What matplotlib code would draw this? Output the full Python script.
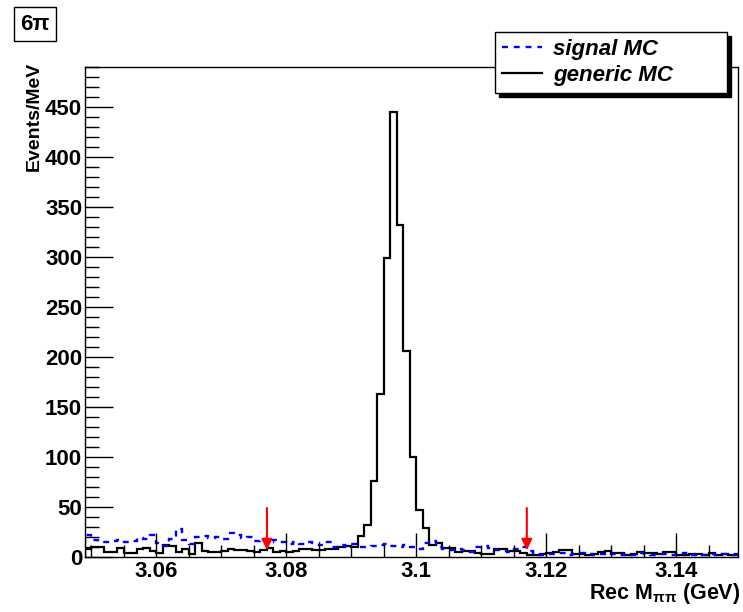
# Recreation of ROOT-style mass spectrum: signal MC vs generic MC
import numpy as np
import matplotlib.pyplot as plt

plt.rcParams['font.family'] = ['Liberation Sans', 'DejaVu Sans']

# bin edges: 1 MeV bins from 3.049 to 3.150 GeV
bin_lo = 3.049
bin_width = 0.001

generic_mc = [8, 10, 10, 5, 5, 9, 4, 4, 8, 9,
              6, 4, 12, 11, 5, 8, 3, 14, 6, 5,
              5, 6, 8, 7, 7, 6, 5, 7, 9, 5,
              6, 5, 6, 8, 8, 7, 7, 8, 8, 10,
              11, 10, 21, 32, 76, 163, 299, 445, 332, 206,
              100, 47, 29, 12, 14, 9, 9, 5, 6, 6,
              4, 3, 3, 8, 8, 6, 6, 4, 2, 2,
              3, 4, 5, 7, 7, 3, 3, 2, 3, 5,
              6, 4, 4, 2, 3, 5, 4, 4, 3, 5,
              5, 2, 2, 3, 3, 2, 4, 2, 3, 2,
              3]

signal_mc = [22, 17, 15, 15, 16, 17, 15, 16, 19, 18,
             22, 14, 11, 18, 28, 17, 13, 20, 21, 19,
             20, 18, 24, 22, 19, 20, 16, 18, 15, 17,
             15, 13, 15, 13, 15, 14, 12, 15, 10, 12,
             11, 13, 10, 10, 11, 12, 13, 11, 10, 12,
             10, 8, 14, 16, 10, 8, 7, 8, 7, 5,
             10, 11, 9, 7, 6, 5, 8, 10, 6, 4,
             2, 3, 3, 4, 2, 3, 4, 3, 2, 3,
             4, 3, 2, 3, 2, 4, 3, 2, 3, 3,
             2, 3, 4, 2, 3, 2, 3, 2, 3, 2,
             2]

# selection cuts (GeV) and arrow span (Events/MeV)
cut_positions = [3.077, 3.117]
arrow_top = 49
arrow_tip = 7

edges = bin_lo + bin_width * np.arange(len(generic_mc) + 1)

W, H = 743, 612
fig = plt.figure(figsize=(W / 100, H / 100), dpi=100)
ax = fig.add_axes([85 / W, 1 - 557 / H, (738 - 85) / W, (557 - 66.5) / H])

ax.stairs(generic_mc, edges, color='black', lw=1.6, label='generic MC')
ax.stairs(signal_mc, edges, color='blue', lw=1.7, ls=(0, (2.5, 2.5)),
          label='signal MC')

for xc in cut_positions:
    ax.annotate('', xy=(xc, arrow_tip), xytext=(xc, arrow_top),
                arrowprops=dict(arrowstyle='-|>', color='red', lw=1.5,
                                mutation_scale=16, shrinkA=0, shrinkB=0))

ax.set_xlim(3.049, 3.1495)
ax.set_ylim(0, 490.5)

ax.set_xticks([3.06, 3.08, 3.10, 3.12, 3.14])
ax.set_xticklabels(['3.06', '3.08', '3.1', '3.12', '3.14'])
ax.set_xticks(np.arange(3.05, 3.1496, 0.005), minor=True)
ax.set_yticks(np.arange(0, 451, 50))
ax.set_yticks(np.arange(0, 491, 10), minor=True)

ax.tick_params(axis='both', which='both', direction='in', width=1,
               labelsize=16, top=False, right=False)
ax.tick_params(axis='y', which='major', length=20, pad=2)
ax.tick_params(axis='y', which='minor', length=10)
ax.tick_params(axis='x', which='major', length=17, pad=3)
ax.tick_params(axis='x', which='minor', length=9)
for lab in ax.get_xticklabels() + ax.get_yticklabels():
    lab.set_fontweight('bold')

for sp in ax.spines.values():
    sp.set_linewidth(1)
    sp.set_color('black')

# axis titles
fig.text(34 / W, 1 - 62 / H, 'Events/MeV', rotation=90, ha='center',
         va='top', fontsize=14, fontweight='bold')
fig.text(740 / W, 1 - 593 / H, r'Rec M$_{\mathregular{\pi\pi}}$ (GeV)',
         ha='right', va='center', fontsize=15.5, fontweight='bold')

# channel tag
fig.text(35 / W, 1 - 24 / H, '6\u03c0', ha='center', va='center',
         fontsize=16, fontweight='bold',
         bbox=dict(boxstyle='square,pad=0.3', facecolor='white',
                   edgecolor='black', lw=1))

# legend
handles, labels = ax.get_legend_handles_labels()
leg = fig.legend(handles[::-1], labels[::-1], loc='upper left',
                 bbox_to_anchor=(495 / W, 1 - 98 / H, (727 - 495) / W, 66 / H),
                 mode='expand', fancybox=False, framealpha=1,
                 edgecolor='black', handlelength=1.8, handletextpad=0.5,
                 borderpad=0.3, labelspacing=0.25, borderaxespad=0,
                 shadow={'color': 'black', 'alpha': 1.0, 'ox': 3, 'oy': -3},
                 prop={'size': 16, 'weight': 'bold', 'style': 'italic'})
leg.get_frame().set_linewidth(1)

fig.savefig('out.png', dpi=100)
